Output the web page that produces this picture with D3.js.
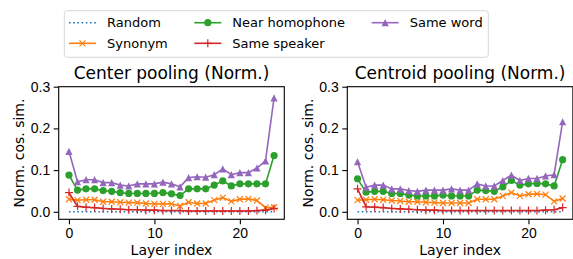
<!DOCTYPE html>
<html>
<head>
<meta charset="utf-8">
<script src="https://cdn.jsdelivr.net/npm/d3@7"></script>
<style>
  body { margin: 0; background: #fff; }
  svg { display: block; font-family: "DejaVu Sans", sans-serif; }
  .tick text { font-size: 14px; fill: #000; }
  .tick line, .domain { stroke: #000; stroke-width: 1.1; }
</style>
</head>
<body>
<div id="viz_container"></div>
<script>
// layer indices
const layers = d3.range(0, 25);
const seriesNames = ["Random", "Synonym", "Near homophone", "Same speaker", "Same word"];
const xTicks = [0, 10, 20];
const yTicks = [0.0, 0.1, 0.2, 0.3];

// center pooling values
const centerRandom = [0,0,0,0,0,0,0,0,0,0,0,0,0,0,0,0,0,0,0,0,0,0,0,0,0];
const centerSynonym = [0.030,0.028,0.029,0.029,0.024,0.024,0.023,0.022,0.022,0.020,0.019,0.019,0.019,0.014,0.023,0.020,0.020,0.028,0.034,0.025,0.030,0.031,0.027,0.010,0.011];
const centerHomophone = [0.088,0.052,0.055,0.055,0.051,0.049,0.046,0.044,0.044,0.044,0.044,0.046,0.043,0.039,0.055,0.055,0.055,0.064,0.074,0.062,0.067,0.067,0.067,0.067,0.135];
const centerSpeaker = [0.046,0.013,0.011,0.010,0.008,0.007,0.006,0.005,0.005,0.004,0.004,0.003,0.003,0.003,0.002,0.002,0.002,0.002,0.002,0.002,0.002,0.002,0.003,0.004,0.008];
const centerWord = [0.145,0.072,0.077,0.077,0.070,0.070,0.064,0.062,0.067,0.067,0.067,0.071,0.067,0.060,0.082,0.084,0.083,0.089,0.103,0.089,0.094,0.094,0.105,0.122,0.273];

// centroid pooling values
const centroidRandom = [0,0,0,0,0,0,0,0,0,0,0,0,0,0,0,0,0,0,0,0,0,0,0,0,0];
const centroidSynonym = [0.028,0.029,0.030,0.029,0.027,0.026,0.024,0.024,0.023,0.022,0.021,0.021,0.021,0.021,0.030,0.030,0.030,0.038,0.046,0.038,0.042,0.043,0.041,0.025,0.032];
const centroidHomophone = [0.079,0.047,0.049,0.049,0.044,0.044,0.040,0.038,0.038,0.038,0.040,0.038,0.038,0.038,0.052,0.051,0.049,0.060,0.075,0.064,0.067,0.068,0.067,0.062,0.125];
const centroidSpeaker = [0.055,0.012,0.011,0.010,0.008,0.007,0.006,0.005,0.004,0.004,0.003,0.003,0.003,0.003,0.003,0.003,0.003,0.003,0.003,0.003,0.003,0.003,0.004,0.005,0.010];
const centroidWord = [0.120,0.059,0.064,0.064,0.055,0.055,0.051,0.049,0.052,0.052,0.052,0.055,0.052,0.052,0.067,0.062,0.062,0.075,0.088,0.075,0.080,0.080,0.086,0.089,0.216];

const colors = ["#1f77b4", "#ff7f0e", "#2ca02c", "#d62728", "#9467bd"];
const markers = ["none", "x", "circle", "plus", "triangle"];

const panels = [
  { title: "Center pooling (Norm.)", left: 58.7, data: [centerRandom, centerSynonym, centerHomophone, centerSpeaker, centerWord] },
  { title: "Centroid pooling (Norm.)", left: 347.3, data: [centroidRandom, centroidSynonym, centroidHomophone, centroidSpeaker, centroidWord] }
];

const axW = 225.6, axTop = 86.7, axBottom = 219.3;

const svg = d3.select("#viz_container")
  .append("svg")
  .attr("width", 573)
  .attr("height", 259);

function drawMarker(g, type, x, y, color) {
  const s = 3.6;
  if (type === "circle") {
    g.append("circle").attr("cx", x).attr("cy", y).attr("r", 3.6).attr("fill", color);
  } else if (type === "triangle") {
    g.append("path")
      .attr("d", `M${x},${y - s}L${x - s},${y + s}L${x + s},${y + s}Z`)
      .attr("fill", color);
  } else if (type === "x") {
    g.append("path")
      .attr("d", `M${x - 3},${y - 3}L${x + 3},${y + 3}M${x - 3},${y + 3}L${x + 3},${y - 3}`)
      .attr("stroke", color).attr("stroke-width", 1.2).attr("fill", "none");
  } else if (type === "plus") {
    g.append("path")
      .attr("d", `M${x - 4},${y}L${x + 4},${y}M${x},${y - 4}L${x},${y + 4}`)
      .attr("stroke", color).attr("stroke-width", 1.2).attr("fill", "none");
  }
}

panels.forEach((p, pi) => {
  const x = d3.scaleLinear().domain([-1.2, 25.2]).range([p.left, p.left + axW]);
  const y = d3.scaleLinear().domain([-0.018, 0.3]).range([axBottom, axTop]);

  const g = svg.append("g");

  const clipId = "clip" + pi;
  g.append("clipPath").attr("id", clipId)
    .append("rect")
    .attr("x", p.left).attr("y", axTop).attr("width", axW).attr("height", axBottom - axTop);

  const plot = g.append("g").attr("clip-path", `url(#${clipId})`);

  const line = d3.line().x((d, i) => x(layers[i])).y(d => y(d));

  p.data.forEach((vals, si) => {
    plot.append("path")
      .datum(vals)
      .attr("d", line)
      .attr("fill", "none")
      .attr("stroke", colors[si])
      .attr("stroke-width", 1.6)
      .attr("stroke-dasharray", si === 0 ? "1.6,2.6" : null);
    vals.forEach((v, i) => drawMarker(plot, markers[si], x(layers[i]), y(v), colors[si]));
  });

  // axes
  g.append("g")
    .attr("transform", `translate(0,${axBottom})`)
    .call(d3.axisBottom(x).tickValues(xTicks).tickSize(5).tickPadding(3.5).tickFormat(d3.format("d")))
    .call(a => a.select(".domain").remove());
  g.append("g")
    .attr("transform", `translate(${p.left},0)`)
    .call(d3.axisLeft(y).tickValues(yTicks).tickSize(5).tickPadding(3.5).tickFormat(d3.format(".1f")))
    .call(a => a.select(".domain").remove());

  // frame
  g.append("rect")
    .attr("x", p.left).attr("y", axTop).attr("width", axW).attr("height", axBottom - axTop)
    .attr("fill", "none").attr("stroke", "#000").attr("stroke-width", 1.1);

  g.append("text")
    .attr("x", p.left + axW / 2).attr("y", 78.5)
    .attr("text-anchor", "middle").attr("font-size", 17)
    .text(p.title);

  g.append("text")
    .attr("x", p.left + axW / 2).attr("y", 255)
    .attr("text-anchor", "middle").attr("font-size", 14)
    .text("Layer index");

  g.append("text")
    .attr("transform", `translate(${p.left - 34.3},${(axTop + axBottom) / 2}) rotate(-90)`)
    .attr("text-anchor", "middle").attr("font-size", 14)
    .text("Norm. cos. sim.");
});

// legend
const legend = svg.append("g");
legend.append("rect")
  .attr("x", 64.3).attr("y", 10.7).attr("width", 424).attr("height", 46.6)
  .attr("rx", 3).attr("fill", "#fff").attr("stroke", "#d6d6d6").attr("stroke-width", 1);

const legendPos = [[69, 22.7], [69, 43.3], [194.3, 22.7], [194.3, 43.3], [371.7, 22.7]];
seriesNames.forEach((name, si) => {
  const [lx, ly] = legendPos[si];
  legend.append("line")
    .attr("x1", lx).attr("x2", lx + 27).attr("y1", ly).attr("y2", ly)
    .attr("stroke", colors[si]).attr("stroke-width", 1.6)
    .attr("stroke-dasharray", si === 0 ? "1.6,2.6" : null);
  drawMarker(legend, markers[si], lx + 13.5, ly, colors[si]);
  legend.append("text")
    .attr("x", lx + 38).attr("y", ly)
    .attr("dominant-baseline", "central").attr("font-size", 13)
    .text(name);
});
</script>
</body>
</html>
